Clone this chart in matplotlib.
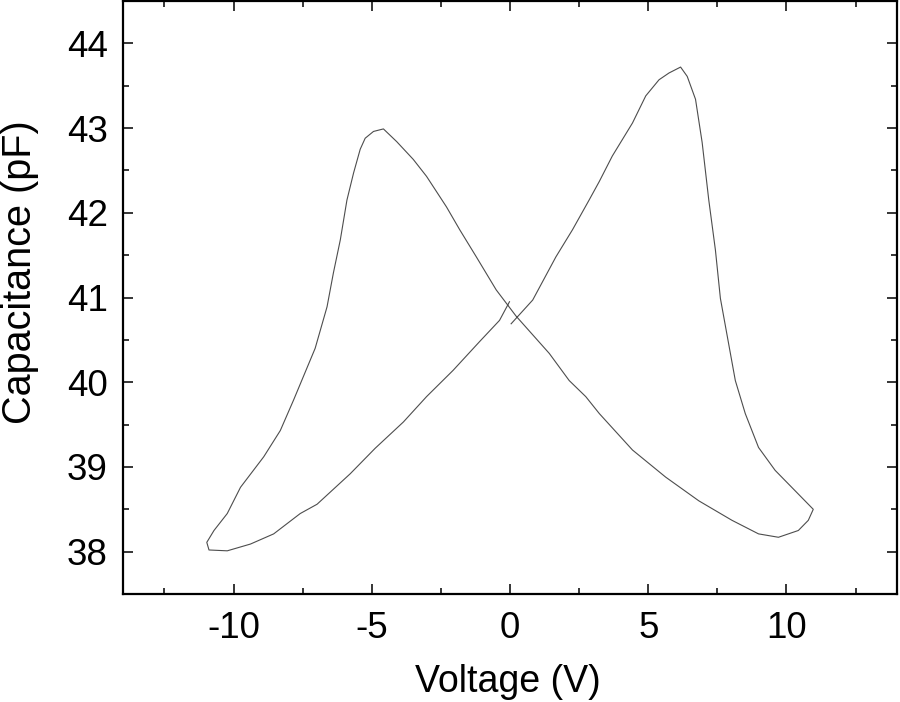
import matplotlib
matplotlib.use('Agg')
import matplotlib.pyplot as plt
from matplotlib.ticker import MultipleLocator

plt.rcParams['font.family'] = ['Liberation Sans', 'DejaVu Sans']
plt.rcParams['axes.unicode_minus'] = False

# voltage sweep 0 -> +11 -> -11 -> 0
voltage = [0.04, 0.82, 1.66, 2.26, 2.86, 3.23, 3.70, 4.43, 4.91, 5.39, 5.75, 6.17,
           6.41, 6.71, 6.95, 7.19, 7.43, 7.61, 8.15, 8.51, 8.99, 9.59, 10.19, 10.67,
           10.97,
           10.79, 10.43, 9.71, 8.99, 8.03, 6.83, 5.63, 4.43, 3.23, 2.74, 2.14, 1.42,
           0.22, -0.50, -1.22, -1.82, -2.30, -3.02, -3.50, -4.10, -4.58, -4.94, -5.24,
           -5.42, -5.66, -5.90, -6.14, -6.39, -6.62, -7.05, -7.83, -8.31, -8.91, -9.75,
           -10.23, -10.71, -10.97,
           -10.89, -10.23, -9.39, -8.55, -7.59, -6.98, -5.78, -4.88, -3.86, -3.02,
           -2.06, -1.10, -0.38, -0.02]
capacitance = [40.69, 40.97, 41.48, 41.80, 42.15, 42.37, 42.67, 43.06, 43.38, 43.57, 43.65, 43.72,
               43.61, 43.34, 42.83, 42.15, 41.56, 40.99, 40.02, 39.63, 39.23, 38.96, 38.76, 38.60,
               38.50,
               38.37, 38.25, 38.17, 38.21, 38.37, 38.60, 38.88, 39.20, 39.63, 39.83, 40.02, 40.34,
               40.78, 41.09, 41.48, 41.80, 42.07, 42.43, 42.63, 42.84, 42.99, 42.96, 42.88,
               42.75, 42.47, 42.15, 41.68, 41.29, 40.89, 40.40, 39.79, 39.43, 39.12, 38.76,
               38.45, 38.25, 38.11,
               38.02, 38.01, 38.09, 38.21, 38.45, 38.56, 38.92, 39.22, 39.53, 39.83,
               40.14, 40.48, 40.73, 40.95]

fig = plt.figure(figsize=(9, 7.02), dpi=100)
ax = fig.add_axes([0.1367, 0.1538, 0.86, 0.8448])
ax.plot(voltage, capacitance, color='#4d4d4d', lw=0.8)

ax.set_xlim(-14, 14)
ax.set_ylim(37.5, 44.5)
ax.xaxis.set_major_locator(MultipleLocator(5))
ax.xaxis.set_minor_locator(MultipleLocator(2.5))
ax.yaxis.set_major_locator(MultipleLocator(1))
ax.yaxis.set_minor_locator(MultipleLocator(0.5))
ax.tick_params(which='both', direction='in', top=True, right=True, width=1.1)
ax.tick_params(which='major', length=7, labelsize=26.5)
ax.tick_params(axis='x', which='major', pad=12)
ax.tick_params(axis='y', which='major', pad=11)
ax.tick_params(which='minor', length=4)
for s in ax.spines.values():
    s.set_linewidth(1.6)

ax.set_xlabel('Voltage (V)', fontsize=27)
ax.set_ylabel('Capacitance (pF)', fontsize=28.5)
ax.xaxis.set_label_coords(0.497, -0.118)
ax.yaxis.set_label_coords(-0.108, 0.542)

fig.savefig('out.png', dpi=100)
